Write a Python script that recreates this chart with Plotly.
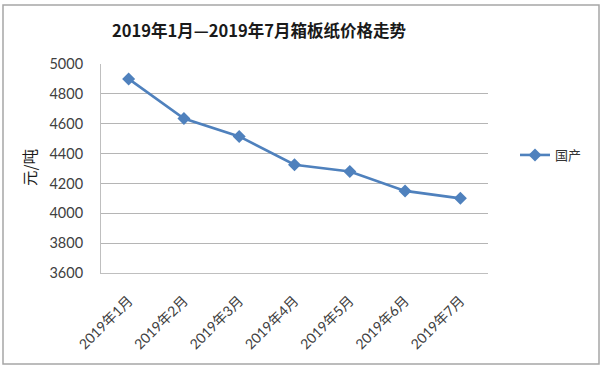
import plotly.graph_objects as go

categories = ["2019年1月", "2019年2月", "2019年3月", "2019年4月", "2019年5月", "2019年6月", "2019年7月"]
values = [4900, 4635, 4515, 4325, 4280, 4150, 4100]
series_name = "国产"
y_ticks = [3600, 3800, 4000, 4200, 4400, 4600, 4800, 5000]

W, H = 607, 370
L, R, T, B = 101, 488, 64, 273  # plot area in pixels


def px(x):
    return (x - L) / (R - L)


def py(y):
    return (B - y) / (B - T)


FONT = "Lato, Noto Sans CJK SC, sans-serif"
CJK = "Noto Sans CJK SC, sans-serif"
COLOR = "#4F81BD"

fig = go.Figure()
fig.add_trace(go.Scatter(
    x=list(range(len(categories))), y=values, name=series_name,
    mode="lines+markers",
    line=dict(color=COLOR, width=2.6),
    marker=dict(symbol="diamond", size=10, color=COLOR),
))

fig.update_layout(
    width=W, height=H,
    margin=dict(l=L, r=W - R, t=T, b=H - B),
    paper_bgcolor="white", plot_bgcolor="white",
    font=dict(family=FONT, size=13, color="#404040"),
    title=dict(text="<b>2019年1月—2019年7月箱板纸价格走势</b>",
               x=259 / W, xanchor="center", xref="container",
               y=1 - 31 / H, yanchor="middle", yref="container",
               font=dict(family=CJK, size=16.5, color="#1a1a1a")),
    xaxis=dict(
        range=[-0.5, len(categories) - 0.5],
        tickmode="array", tickvals=list(range(len(categories))), ticktext=categories,
        tickangle=-45, showgrid=False, zeroline=False,
        showline=True, linecolor="#BFBFBF", linewidth=1,
        ticks="", ticklabelstandoff=13,
        tickfont=dict(family=FONT, size=14, color="#404040"),
    ),
    yaxis=dict(
        range=[3600, 5000], tickmode="array", tickvals=y_ticks,
        showgrid=True, gridcolor="#B5B5B5", gridwidth=1, zeroline=False,
        showline=True, linecolor="#BFBFBF", linewidth=1,
        ticks="", ticklabelstandoff=14,
        tickfont=dict(family=FONT, size=14.5, color="#404040"),
    ),
    legend=dict(
        x=px(515), y=py(155), xanchor="left", yanchor="middle",
        font=dict(family=CJK, size=13, color="#333333"),
        bgcolor="rgba(0,0,0,0)",
    ),
    showlegend=True,
    shapes=[dict(type="rect", xref="paper", yref="paper",
                 x0=px(3), x1=px(599), y0=py(364), y1=py(5),
                 line=dict(color="#A6A6A6", width=1.5), layer="below")],
    annotations=[dict(text="元/吨", textangle=-90, xref="paper", yref="paper",
                      x=px(29), y=py(168), xanchor="center", yanchor="middle",
                      showarrow=False,
                      font=dict(family=CJK, size=15.5, color="#1a1a1a"))],
)

fig.write_html("out.html", config={"displayModeBar": False},
               post_script="document.body.style.margin='0';")
